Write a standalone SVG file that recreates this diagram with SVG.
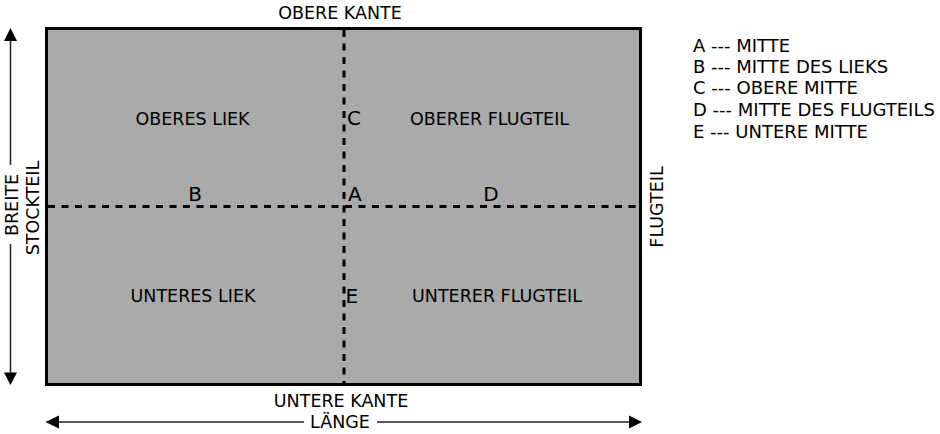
<svg xmlns="http://www.w3.org/2000/svg" width="940" height="434" viewBox="0 0 940 434">
<style>
text{font-family:"DejaVu Sans","Liberation Sans",sans-serif;font-size:17.5px;fill:#000}
.m{text-anchor:middle}
.big{font-size:20px}
.leg{font-size:18px}
.dash{stroke:#000;stroke-width:3;stroke-dasharray:7 6.5;fill:none}
.dim{stroke:#222;stroke-width:1.5;fill:none}
.ah{fill:#000}
</style>
<rect width="940" height="434" fill="#fff"/>
<g id="panel">
<rect x="46.5" y="28.5" width="594" height="356" fill="#aaaaaa" stroke="#000" stroke-width="3"/>
</g>
<g id="connectors">
<line class="dash" x1="344" y1="30" x2="344" y2="383"/>
<line class="dash" x1="48" y1="206.5" x2="639" y2="206.5"/>
<line class="dim" x1="10.5" y1="40" x2="10.5" y2="165"/>
<line class="dim" x1="10.5" y1="244" x2="10.5" y2="373"/>
<polygon class="ah" points="10.5,28 4,41 17,41"/>
<polygon class="ah" points="10.5,385 4,372.5 17,372.5"/>
<line class="dim" x1="58" y1="422" x2="304" y2="422"/>
<line class="dim" x1="377" y1="422" x2="630" y2="422"/>
<polygon class="ah" points="45.5,422 59,415.5 59,428.5"/>
<polygon class="ah" points="642,422 629,415.5 629,428.5"/>
</g>
<g id="labels">
<text class="m" x="340" y="19">OBERE KANTE</text>
<text class="m" x="192.5" y="125">OBERES LIEK</text>
<text class="big" x="347" y="125">C</text>
<text class="m" x="489.5" y="125">OBERER FLUGTEIL</text>
<text class="m big" x="195" y="201">B</text>
<text class="big" x="348" y="201">A</text>
<text class="m big" x="491" y="201">D</text>
<text class="m" x="193" y="302">UNTERES LIEK</text>
<text class="big" x="345.5" y="303">E</text>
<text class="m" x="497" y="302">UNTERER FLUGTEIL</text>
<text class="m" x="341" y="407">UNTERE KANTE</text>
<text class="m" x="340" y="428">LÄNGE</text>
<text class="m" transform="translate(18,205) rotate(-90)">BREITE</text>
<text class="m" transform="translate(39,208) rotate(-90)">STOCKTEIL</text>
<text class="m" transform="translate(663,207) rotate(-90)">FLUGTEIL</text>
</g>
<g id="legend">
<text class="leg" x="693" y="51.5">A --- MITTE</text>
<text class="leg" x="693" y="72.5">B --- MITTE DES LIEKS</text>
<text class="leg" x="693" y="93.5">C --- OBERE MITTE</text>
<text class="leg" x="693" y="115.5">D ---  MITTE DES FLUGTEILS</text>
<text class="leg" x="693" y="137.5">E --- UNTERE MITTE</text>
</g>
</svg>
